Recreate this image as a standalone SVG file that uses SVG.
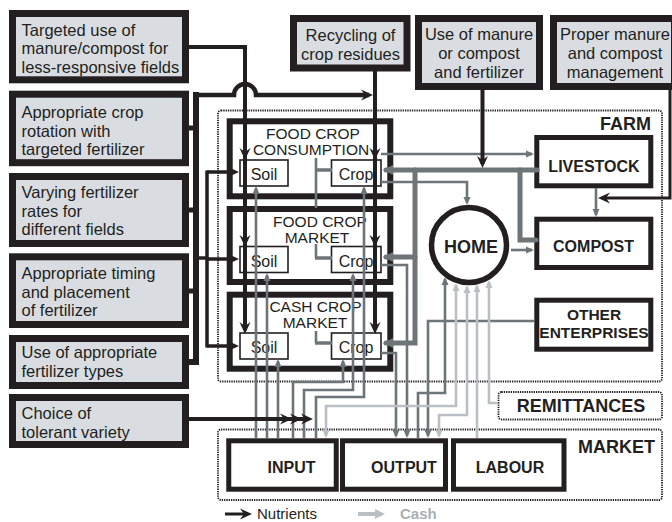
<svg xmlns="http://www.w3.org/2000/svg" width="672" height="522" viewBox="0 0 672 522">
<defs>
<style>
text{font-family:"Liberation Sans",Arial,sans-serif;fill:#231f20}
.lb rect{fill:#d9dde2;stroke:#231f20;stroke-width:7}
.lt{font-size:16.5px}
.c{text-anchor:middle}
.zone{fill:none;stroke:#231f20;stroke-width:1.8;stroke-dasharray:1.3 1}
.zl{font-size:18px;font-weight:bold}
.grp{fill:#fff;stroke:#231f20;stroke-width:6}
.sb{fill:#fff;stroke:#231f20;stroke-width:1.6}
.st{font-size:16px}
.gt{font-size:15.5px}
.ent{fill:#fff;stroke:#231f20;stroke-width:5}
.et{font-size:16px;font-weight:bold}
.blk{fill:none;stroke:#231f20;stroke-width:4}
.dg{fill:none;stroke:#6d7579;stroke-width:2.6}
.dgt{fill:none;stroke:#6d7579;stroke-width:5;stroke-linecap:round}
.lg{fill:none;stroke:#b9bfc5;stroke-width:2.6}
</style>
<marker id="ab" markerUnits="userSpaceOnUse" viewBox="0 0 12 12" markerWidth="12" markerHeight="12" refX="8" refY="6" orient="auto"><path d="M0,0.5 L12,6 L0,11.5 L4,6 z" fill="#231f20"/></marker>
<marker id="ad" markerUnits="userSpaceOnUse" viewBox="0 0 8 8" markerWidth="8" markerHeight="8" refX="6" refY="4" orient="auto"><path d="M0,0.5 L8,4 L0,7.5 z" fill="#6d7579"/></marker>
<marker id="adt" markerUnits="userSpaceOnUse" viewBox="0 0 10 10" markerWidth="10" markerHeight="10" refX="7" refY="5" orient="auto"><path d="M0,0 L10,5 L0,10 z" fill="#6d7579"/></marker>
<marker id="al" markerUnits="userSpaceOnUse" viewBox="0 0 8 8" markerWidth="8" markerHeight="8" refX="6" refY="4" orient="auto-start-reverse"><path d="M0,0.5 L8,4 L0,7.5 z" fill="#b9bfc5"/></marker>
<marker id="alb" markerUnits="userSpaceOnUse" viewBox="0 0 10 10" markerWidth="10" markerHeight="10" refX="7" refY="5" orient="auto"><path d="M0,0 L10,5 L0,10 z" fill="#b9bfc5"/></marker>
</defs>

<g id="zone-farm"><rect class="zone" x="218" y="110.5" width="444" height="271" rx="3"/><text class="zl" x="651" y="130" text-anchor="end">FARM</text></g>
<g id="zone-market"><rect class="zone" x="218" y="429.5" width="444" height="70.5" rx="3"/><text class="zl" x="655" y="453" text-anchor="end">MARKET</text></g>
<g id="n-remittances"><rect class="zone" x="498.5" y="392" width="163.5" height="27.5" rx="3"/><text class="zl c" x="581" y="412">REMITTANCES</text></g>

<g id="n-targeted" class="lb"><rect x="12.5" y="13.5" width="173" height="66.3"/><text class="lt" x="21.5" y="35.5">Targeted use of</text><text class="lt" x="21.5" y="54">manure/compost for</text><text class="lt" x="21.5" y="72.5">less-responsive fields</text></g>
<g id="n-rotation" class="lb"><rect x="12.5" y="94.2" width="173" height="68.5"/><text class="lt" x="21.5" y="118">Appropriate crop</text><text class="lt" x="21.5" y="136.5">rotation with</text><text class="lt" x="21.5" y="155">targeted fertilizer</text></g>
<g id="n-rates" class="lb"><rect x="12.5" y="176.5" width="173" height="67"/><text class="lt" x="21.5" y="198">Varying fertilizer</text><text class="lt" x="21.5" y="216.5">rates for</text><text class="lt" x="21.5" y="235">different fields</text></g>
<g id="n-timing" class="lb"><rect x="12.5" y="256.8" width="173" height="67.7"/><text class="lt" x="21.5" y="279">Appropriate timing</text><text class="lt" x="21.5" y="297.5">and placement</text><text class="lt" x="21.5" y="316">of fertilizer</text></g>
<g id="n-types" class="lb"><rect x="12.5" y="338.5" width="173" height="47"/><text class="lt" x="21.5" y="358">Use of appropriate</text><text class="lt" x="21.5" y="376.5">fertilizer types</text></g>
<g id="n-variety" class="lb"><rect x="12.5" y="397.5" width="173" height="47"/><text class="lt" x="21.5" y="419">Choice of</text><text class="lt" x="21.5" y="437.5">tolerant variety</text></g>

<g id="n-recycling" class="lb"><rect x="293.5" y="18.5" width="113.5" height="49.5"/><text class="lt c" x="350.5" y="40.5">Recycling of</text><text class="lt c" x="350.5" y="59.5">crop residues</text></g>
<g id="n-usemanure" class="lb"><rect x="418.5" y="18.5" width="121" height="68"/><text class="lt c" x="479" y="39.5">Use of manure</text><text class="lt c" x="479" y="58.5">or compost</text><text class="lt c" x="479" y="77.5">and fertilizer</text></g>
<g id="n-proper" class="lb"><rect x="553.5" y="18.5" width="121" height="68"/><text class="lt c" x="615" y="39.5">Proper manure</text><text class="lt c" x="615" y="58.5">and compost</text><text class="lt c" x="615" y="77.5">management</text></g>

<g id="n-fcc"><rect class="grp" x="229.7" y="121.3" width="160.6" height="75"/><text class="gt c" x="313" y="138.5">FOOD CROP</text><text class="gt c" x="311" y="154.5">CONSUMPTION</text>
<rect class="sb" x="240" y="160" width="48" height="26"/><text class="st c" x="264" y="180">Soil</text>
<rect class="sb" x="331.5" y="160" width="49.5" height="26"/><text class="st c" x="356" y="180">Crop</text></g>
<g id="n-fcm"><rect class="grp" x="229.7" y="209" width="160.6" height="73"/><text class="gt c" x="320" y="226.5">FOOD CROP</text><text class="gt c" x="317" y="242.5">MARKET</text>
<rect class="sb" x="240" y="246.5" width="48" height="26"/><text class="st c" x="264" y="266.5">Soil</text>
<rect class="sb" x="331.5" y="246.5" width="49.5" height="26"/><text class="st c" x="356" y="266.5">Crop</text></g>
<g id="n-ccm"><rect class="grp" x="229.7" y="294.7" width="160.6" height="74"/><text class="gt c" x="315.5" y="311.5">CASH CROP</text><text class="gt c" x="315" y="327.5">MARKET</text>
<rect class="sb" x="240" y="333" width="48" height="26"/><text class="st c" x="264" y="353">Soil</text>
<rect class="sb" x="331.5" y="333" width="49.5" height="26"/><text class="st c" x="356" y="353">Crop</text></g>

<g id="n-home"><circle cx="469" cy="245" r="37.5" fill="#fff" stroke="#231f20" stroke-width="5.5"/><text class="c" x="471" y="253" style="font-size:18px;font-weight:bold">HOME</text></g>
<g id="n-livestock"><rect class="ent" x="536.8" y="137.5" width="114" height="48.3"/><text class="et c" x="594" y="171.5">LIVESTOCK</text></g>
<g id="n-compost"><rect class="ent" x="536.8" y="219.2" width="114" height="48.3"/><text class="et c" x="593.5" y="251.5">COMPOST</text></g>
<g id="n-other"><rect class="ent" x="536.8" y="300.2" width="114" height="49"/><text class="et c" x="594" y="320" style="font-size:15.5px">OTHER</text><text class="et c" x="594" y="338" style="font-size:15.5px">ENTERPRISES</text></g>
<g id="n-input"><rect class="ent" x="228.75" y="440.8" width="107.5" height="48.4"/><text class="et c" x="291.5" y="472.5">INPUT</text></g>
<g id="n-output"><rect class="ent" x="342.5" y="440.8" width="103" height="48.4"/><text class="et c" x="404" y="472.5">OUTPUT</text></g>
<g id="n-labour"><rect class="ent" x="453.5" y="440.8" width="110.5" height="48.4"/><text class="et c" x="510" y="472.5">LABOUR</text></g>

<g id="connectors">
<path class="dg" d="M381,154 H532" marker-end="url(#ad)"/>
<path class="dgt" d="M537,170 H386" marker-end="url(#adt)"/>
<path class="dgt" d="M415,170 V343 H386" marker-end="url(#adt)"/>
<path class="dgt" d="M415,257 H386" marker-end="url(#adt)"/>
<path class="dgt" d="M520,170 V240 H536"/>
<path class="dg" d="M381,182 H467 V203" marker-end="url(#ad)"/>
<path class="dg" d="M511,250 H532" marker-end="url(#ad)"/>
<path class="dg" d="M596,188 V215" marker-end="url(#ad)"/>
<path class="dg" d="M316,158 V208"/>
<path class="dg" d="M316,244 V258"/>
<path class="dg" d="M316,331 V343"/>
<path class="dg" style="stroke-width:3.5" d="M315,170 H332 M315,258 H332 M315,343 H332"/>
<path class="dg" d="M256,438 V188" marker-end="url(#ad)"/>
<path class="dg" d="M267,438 V275" marker-end="url(#ad)"/>
<path class="dg" d="M278,438 V361" marker-end="url(#ad)"/>
<path class="dg" d="M293,438 V382 H343 V361" marker-end="url(#ad)"/>
<path class="dg" d="M304,438 V390 H353 V275" marker-end="url(#ad)"/>
<path class="dg" d="M316,438 V397 H364 V188" marker-end="url(#ad)"/>
<path class="dg" d="M381,265 H407 V436" marker-end="url(#ad)"/>
<path class="dg" d="M381,353 H396 V436" marker-end="url(#ad)"/>
<path class="dg" d="M534,321 H428 V436" marker-end="url(#ad)"/>
<path class="dg" d="M418,438 V393 H445 V279" marker-end="url(#ad)"/>
<path class="lg" d="M456,285 V406 H326 V436" marker-start="url(#al)" marker-end="url(#al)"/>
<path class="lg" d="M467,287 V415 H439 V436" marker-start="url(#al)" marker-end="url(#al)"/>
<path class="lg" d="M477,438 V286" marker-end="url(#al)"/>
<path class="lg" d="M498,403 H489 V282" marker-end="url(#al)"/>
<path class="blk" d="M189,47 H245 V156" marker-end="url(#ab)"/>
<path class="blk" d="M245,156 V243" marker-end="url(#ab)"/>
<path class="blk" d="M245,243 V330" marker-end="url(#ab)"/>
<path class="blk" d="M375,71 V156" marker-end="url(#ab)"/>
<path class="blk" d="M375,156 V243" marker-end="url(#ab)"/>
<path class="blk" d="M375,243 V330" marker-end="url(#ab)"/>
<path class="blk" style="stroke-width:6" d="M189,362 H196 V92"/>
<path class="blk" style="stroke-width:5" d="M189,128 H196 M189,210 H196 M189,291 H196"/>
<path class="blk" style="stroke-width:4.5" d="M193,95 H234 A11,11 0 0 1 256,95 H369" marker-end="url(#ab)"/>
<path class="blk" style="stroke-width:3.5" d="M196,258 H207 M207,170.5 V347.5"/>
<path class="blk" style="stroke-width:3.5" d="M207,172 H235" marker-end="url(#ab)"/>
<path class="blk" style="stroke-width:3.5" d="M207,259 H235" marker-end="url(#ab)"/>
<path class="blk" style="stroke-width:3.5" d="M207,346 H235" marker-end="url(#ab)"/>
<path class="blk" d="M189,419 H288" marker-end="url(#ab)"/>
<path class="blk" d="M288,419 H298" marker-end="url(#ab)"/>
<path class="blk" d="M298,419 H309" marker-end="url(#ab)"/>
<path class="blk" d="M482.5,90 V164" marker-end="url(#ab)"/>
<path class="blk" style="stroke-width:3" d="M670,90 V198 H602" marker-end="url(#ab)"/>
</g>

<g id="legend">
<path class="blk" style="stroke-width:3" d="M225,514 H248" marker-end="url(#ab)"/>
<text x="257" y="518.5" style="font-size:15px">Nutrients</text>
<path fill="none" stroke="#b9bfc5" stroke-width="4" d="M358,514 H382" marker-end="url(#alb)"/>
<text x="400" y="518.5" style="font-size:15px;font-weight:bold;fill:#a9afb4">Cash</text>
</g>
</svg>
